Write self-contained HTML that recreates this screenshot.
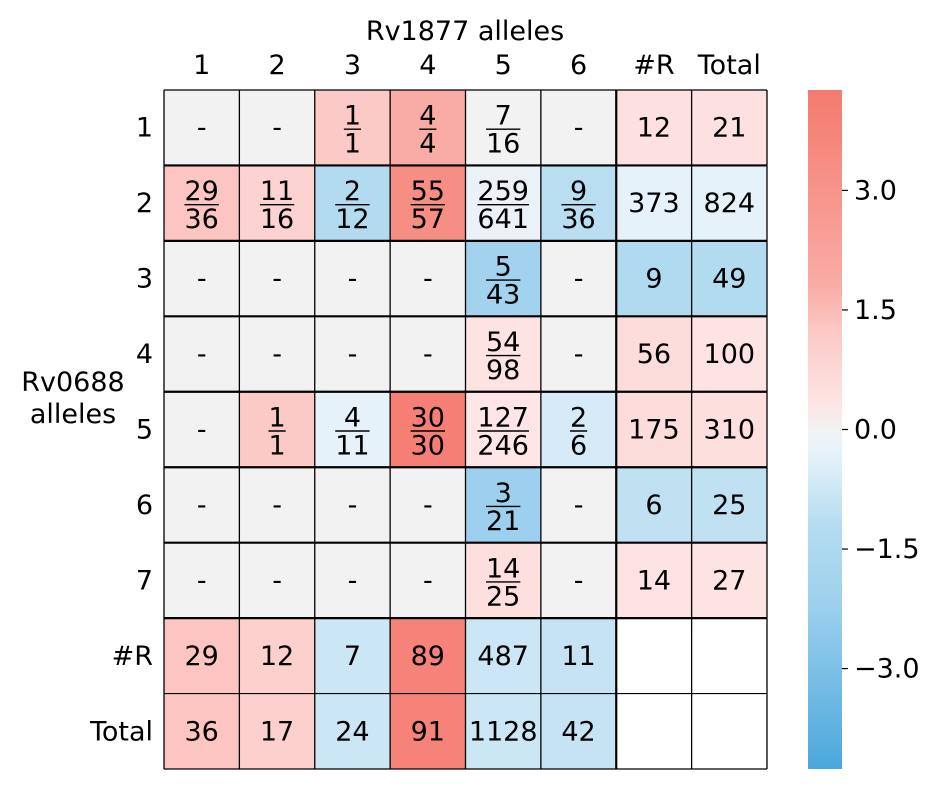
<!DOCTYPE html>
<html><head><meta charset="utf-8"><style>
body{margin:0;background:#fff}
svg text{font-family:"DejaVu Sans","Liberation Sans",sans-serif;fill:#000}
</style></head><body>
<svg id="chart" width="948" height="793" viewBox="0 0 948 793" xmlns="http://www.w3.org/2000/svg">
<defs><linearGradient id="cbgrad" x1="0" y1="1" x2="0" y2="0"></linearGradient></defs>
<g id="cells"></g>
<g id="grid"></g>
<g id="labels"></g>
<g id="cbar"></g>
</svg>
<script>
const colLabels=["1","2","3","4","5","6","#R","Total"];
const rowLabels=["1","2","3","4","5","6","7","#R","Total"];
const cellText=[
["-","-","1/1","4/4","7/16","-","12","21"],
["29/36","11/16","2/12","55/57","259/641","9/36","373","824"],
["-","-","-","-","5/43","-","9","49"],
["-","-","-","-","54/98","-","56","100"],
["-","1/1","4/11","30/30","127/246","2/6","175","310"],
["-","-","-","-","3/21","-","6","25"],
["-","-","-","-","14/25","-","14","27"],
["29","12","7","89","487","11","",""],
["36","17","24","91","1128","42","",""]];
const cellValues=[
[null,null,1.2,1.8,0.0,null,0.45,0.45],
[1.3,0.9,-1.3,3.3,-0.2,-1.1,-0.3,-0.3],
[null,null,null,null,-2.0,null,-1.4,-1.3],
[null,null,null,null,0.4,null,0.6,0.4],
[null,1.2,-0.3,4.0,0.3,-0.6,0.6,0.5],
[null,null,null,null,-2.2,null,-1.0,-1.0],
[null,null,null,null,0.5,null,0.4,0.35],
[1.3,1.0,-0.8,3.8,-0.8,-0.9,"w","w"],
[1.3,1.0,-0.8,3.8,-0.8,-0.9,"w","w"]];
const cbTicks=[3.0,1.5,0.0,-1.5,-3.0];
const cbTickLabels=["3.0","1.5","0.0","\u22121.5","\u22123.0"];

const NS="http://www.w3.org/2000/svg";
const X0=164,X1=767,Y0=90,Y1=769;
const cw=(X1-X0)/colLabels.length, rh=(Y1-Y0)/rowLabels.length;
const vmin=-4.26,vmax=4.26;
const FS=27;
const stops=[[-4.26,[74,168,220]],[-2.2,[157,208,238]],[-1.2,[181,220,240]],[-0.3,[230,242,250]],[0,[242,242,242]],[0.3,[253,230,229]],[1.2,[252,202,198]],[1.8,[249,172,165]],[4.26,[244,122,111]]];
function color(v){
  if(v===null)return "#f2f2f2"; if(v==="w")return "#ffffff";
  v=Math.max(vmin,Math.min(vmax,v));
  for(let i=0;i<stops.length-1;i++){const a=stops[i],b=stops[i+1];
    if(v>=a[0]&&v<=b[0]){const t=(v-a[0])/(b[0]-a[0]);
      const c=a[1].map((x,k)=>Math.round(x+(b[1][k]-x)*t));return `rgb(${c})`;}}
  return "#f2f2f2";
}
function el(tag,attrs,parent,txt){const e=document.createElementNS(NS,tag);for(const k in attrs)e.setAttribute(k,attrs[k]);if(txt!==undefined)e.textContent=txt;parent.appendChild(e);return e;}
const xs=i=>X0+i*cw, ys=j=>Y0+j*rh;
const gC=document.getElementById("cells"),gG=document.getElementById("grid"),gL=document.getElementById("labels"),gB=document.getElementById("cbar");
for(let r=0;r<rowLabels.length;r++)for(let c=0;c<colLabels.length;c++){
  const rect=el("rect",{x:xs(c),y:ys(r),width:cw,height:rh,fill:color(cellValues[r][c])},gC);
  
  
  const t=cellText[r][c],cx=xs(c)+cw/2,cy=ys(r)+rh/2;
  if(t.includes("/")){const [a,b]=t.split("/");
    const n=el("text",{x:cx,y:cy-3,"text-anchor":"middle","font-size":FS},gC,a);
    
    
    const w=Math.max(a.length,b.length)*0.636*FS;
    el("line",{x1:cx-w/2,x2:cx+w/2,y1:cy+1.5,y2:cy+1.5,stroke:"#000","stroke-width":1.4},gC);
    const d=el("text",{x:cx,y:cy+25,"text-anchor":"middle","font-size":FS},gC,b);
    
    
  } else if(t){
    const v=el("text",{x:cx,y:cy+9,"text-anchor":"middle","font-size":FS},gC,t);
    
    
  }
}
for(let r=0;r<=rowLabels.length;r++)el("line",{x1:X0,x2:X1,y1:ys(r),y2:ys(r),stroke:"#000","stroke-width":(r>0&&r<8)?2.2:1.2},gG);
for(let c=0;c<=colLabels.length;c++)el("line",{x1:xs(c),x2:xs(c),y1:Y0,y2:Y1,stroke:"#000","stroke-width":c===6?2.2:1.3},gG);
colLabels.forEach((l,i)=>{const t=el("text",{x:xs(i)+cw/2,y:74,"text-anchor":"middle","font-size":FS},gL,l);
  
  });
rowLabels.forEach((l,i)=>{const t=el("text",{x:153,y:ys(i)+rh/2+9,"text-anchor":"end","font-size":FS},gL,l);
  
  });
const xt=el("text",{x:465,y:40,"text-anchor":"middle","font-size":FS},gL,"Rv1877 alleles");


const yt=el("text",{x:73,y:391,"text-anchor":"middle","font-size":FS},gL,"Rv0688");


el("text",{x:73,y:423,"text-anchor":"middle","font-size":FS},gL,"alleles");
const grad=document.getElementById("cbgrad");
stops.forEach(s=>el("stop",{offset:((s[0]-vmin)/(vmax-vmin)*100)+"%","stop-color":`rgb(${s[1]})`},grad));
const cbX=808,cbW=34;
const cb=el("rect",{x:cbX,y:Y0,width:cbW,height:Y1-Y0,fill:"url(#cbgrad)"},gB);


const cy=v=>Y1-(v-vmin)/(vmax-vmin)*(Y1-Y0);
cbTicks.forEach((v,i)=>{el("line",{x1:cbX+cbW,x2:cbX+cbW+6,y1:cy(v),y2:cy(v),stroke:"#000","stroke-width":1.2},gB);
  const t=el("text",{x:cbX+cbW+12,y:cy(v)+9,"font-size":FS},gB,cbTickLabels[i]);
  
  });
</script>
</body></html>
